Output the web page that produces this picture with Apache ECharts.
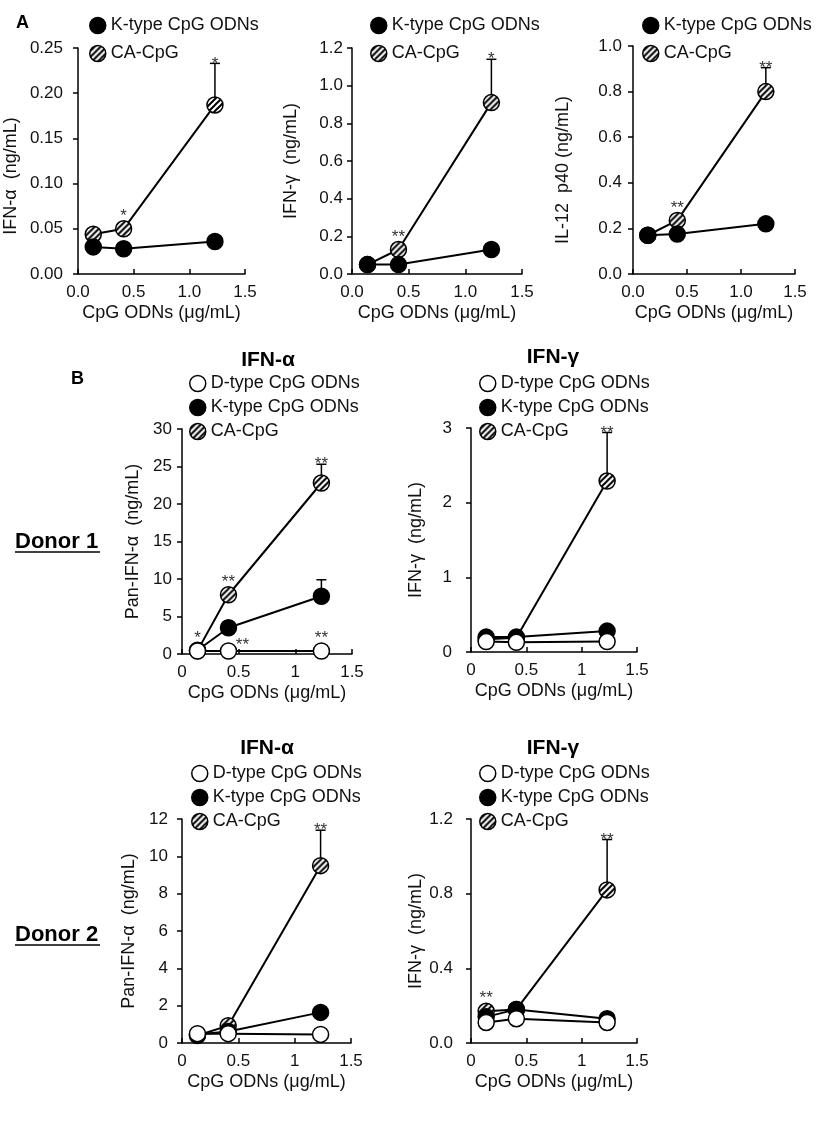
<!DOCTYPE html>
<html>
<head>
<meta charset="utf-8">
<script src="https://cdn.jsdelivr.net/npm/echarts@6/dist/echarts.min.js"></script>
<style>
  html, body { margin: 0; padding: 0; background: #fff; }
  #chart { width: 827px; height: 1143px; }
</style>
</head>
<body>
<div id="chart"></div>
<script>
// doses (3-fold dilution)
const doses = [0.137, 0.41, 1.23];
const xTicksA = ['0.0', '0.5', '1.0', '1.5'];
const xTicksB = ['0', '0.5', '1', '1.5'];

// A - IFN-alpha
const aAlphaK = [0.030, 0.028, 0.036];
const aAlphaCA = [0.044, 0.050, 0.187];
const aAlphaCATop = [null, null, 0.233];
const aAlphaCAStars = ['', '*', '*'];
const aAlphaTicks = ['0.00', '0.05', '0.10', '0.15', '0.20', '0.25'];
// A - IFN-gamma
const aGammaK = [0.05, 0.05, 0.13];
const aGammaCA = [0.05, 0.13, 0.91];
const aGammaCATop = [null, null, 1.14];
const aGammaCAStars = ['', '**', '*'];
const aGammaTicks = ['0.0', '0.2', '0.4', '0.6', '0.8', '1.0', '1.2'];
// A - IL-12 p40
const aIl12K = [0.17, 0.175, 0.22];
const aIl12CA = [0.17, 0.235, 0.80];
const aIl12CATop = [null, null, 0.905];
const aIl12CAStars = ['', '**', '**'];
const aIl12Ticks = ['0.0', '0.2', '0.4', '0.6', '0.8', '1.0'];

// B - donor 1, pan-IFN-alpha
const d1AlphaD = [0.4, 0.4, 0.4];
const d1AlphaDStars = ['*', '**', '**'];
const d1AlphaK = [0.5, 3.5, 7.7];
const d1AlphaKTop = [null, null, 9.9];
const d1AlphaCA = [0.45, 7.9, 22.8];
const d1AlphaCATop = [null, null, 25.3];
const d1AlphaCAStars = ['', '**', '**'];
const d1AlphaTicks = ['0', '5', '10', '15', '20', '25', '30'];
// B - donor 1, IFN-gamma
const d1GammaD = [0.14, 0.13, 0.14];
const d1GammaK = [0.2, 0.2, 0.28];
const d1GammaCA = [0.17, 0.19, 2.29];
const d1GammaCATop = [null, null, 2.94];
const d1GammaCAStars = ['', '', '**'];
const d1GammaTicks = ['0', '1', '2', '3'];
// B - donor 2, pan-IFN-alpha
const d2AlphaD = [0.5, 0.5, 0.46];
const d2AlphaK = [0.45, 0.62, 1.64];
const d2AlphaCA = [0.4, 0.93, 9.5];
const d2AlphaCATop = [null, null, 11.4];
const d2AlphaCAStars = ['', '', '**'];
const d2AlphaTicks = ['0', '2', '4', '6', '8', '10', '12'];
// B - donor 2, IFN-gamma
const d2GammaD = [0.11, 0.13, 0.11];
const d2GammaK = [0.14, 0.18, 0.13];
const d2GammaCA = [0.17, 0.18, 0.82];
const d2GammaCATop = [null, null, 1.09];
const d2GammaCAStars = ['**', '', '**'];
const d2GammaTicks = ['0.0', '0.4', '0.8', '1.2'];

const nameD = 'D-type CpG ODNs';
const nameK = 'K-type CpG ODNs';
const nameCA = 'CA-CpG';

const FONT = '"Liberation Sans", Arial, sans-serif';
const TXT = '#111';
const SYM = 16;

// hatched fill for CA-CpG
function hatchCanvas() {
  const c = document.createElement('canvas');
  c.width = 6; c.height = 6;
  const g = c.getContext('2d');
  g.fillStyle = '#fff';
  g.fillRect(0, 0, 6, 6);
  g.strokeStyle = '#000';
  g.lineWidth = 2;
  g.beginPath();
  g.moveTo(-1, 7); g.lineTo(7, -1);
  g.moveTo(-1, 1); g.lineTo(1, -1);
  g.moveTo(5, 7); g.lineTo(7, 5);
  g.stroke();
  return c;
}
const hatchImg = hatchCanvas();
const hatchLegend = { image: hatchImg, repeat: 'repeat' };
// series symbols are drawn at unit size and scaled by SYM/2, so shrink the pattern back
const hatchSymbol = { image: hatchImg, repeat: 'repeat', scaleX: 2 / SYM, scaleY: 2 / SYM };

const fills = {};
fills[nameD] = '#fff';
fills[nameK] = '#000';
fills[nameCA] = hatchSymbol;
const legendFills = {};
legendFills[nameD] = '#fff';
legendFills[nameK] = '#000';
legendFills[nameCA] = hatchLegend;
const zOrder = {};
zOrder[nameD] = 4;
zOrder[nameK] = 3;
zOrder[nameCA] = 2;

let option = {
  animation: false,
  backgroundColor: '#fff',
  textStyle: { fontFamily: FONT },
  grid: [], xAxis: [], yAxis: [], legend: [], series: [], graphic: []
};

function addPanel(p) {
  const i = option.grid.length;
  option.grid.push({ left: p.box[0], top: p.box[1], width: p.box[2], height: p.box[3], containLabel: false });
  const xt = p.xTicks, yt = p.yTicks;
  option.xAxis.push({
    type: 'value', gridIndex: i, min: 0, max: 1.5, interval: 0.5,
    axisLine: { show: true, onZero: false, lineStyle: { color: '#000', width: 1.5 } },
    axisTick: { show: true, inside: true, length: 5, lineStyle: { color: '#000', width: 1.5 } },
    axisLabel: { margin: 10, fontSize: 17, color: TXT, fontFamily: FONT,
      formatter: v => xt[Math.round(v / 0.5)] },
    splitLine: { show: false },
    name: 'CpG ODNs (μg/mL)', nameLocation: 'middle', nameGap: 30,
    nameTextStyle: { fontSize: 18, color: TXT, fontFamily: FONT }
  });
  option.yAxis.push({
    type: 'value', gridIndex: i, min: 0, max: p.yMax, interval: p.yStep,
    axisLine: { show: true, onZero: false, lineStyle: { color: '#000', width: 1.5 } },
    axisTick: { show: true, inside: false, length: 5, lineStyle: { color: '#000', width: 1.5 } },
    axisLabel: { margin: p.labelMargin, fontSize: 17, color: TXT, fontFamily: FONT,
      formatter: v => yt[Math.round(v / p.yStep)] },
    splitLine: { show: false },
    name: p.yName, nameLocation: 'middle', nameGap: p.nameGap,
    nameTextStyle: { fontSize: 18, color: TXT, fontFamily: FONT, padding: p.namePad || 0 }
  });
  option.legend.push({
    orient: 'vertical', left: p.legend[0], top: p.legend[1], padding: 0,
    itemGap: p.legend[2], itemWidth: 16, itemHeight: 16, icon: 'circle',
    selectedMode: false,
    data: p.series.map(s => ({ name: s.name,
      itemStyle: { color: legendFills[s.name], borderColor: '#000', borderWidth: 1.5 } })),
    textStyle: { fontSize: 18, color: TXT, fontFamily: FONT, lineHeight: 17 }
  });

  // draw CA first, D last
  const ordered = p.series.slice().sort((a, b) => zOrder[a.name] - zOrder[b.name]);
  ordered.forEach(s => {
    const z = zOrder[s.name];
    if (s.top) {
      const bars = [];
      s.top.forEach((t, k) => { if (t !== null) bars.push([doses[k], s.values[k], t]); });
      option.series.push({
        type: 'custom', xAxisIndex: i, yAxisIndex: i, z: 1, silent: true,
        data: bars,
        renderItem: (params, api) => {
          const a = api.coord([api.value(0), api.value(1)]);
          const b = api.coord([api.value(0), api.value(2)]);
          return { type: 'group', children: [
            { type: 'line', shape: { x1: a[0], y1: a[1], x2: b[0], y2: b[1] }, style: { stroke: '#000', lineWidth: 1.5 } },
            { type: 'line', shape: { x1: b[0] - 5, y1: b[1], x2: b[0] + 5, y2: b[1] }, style: { stroke: '#000', lineWidth: 1.5 } }
          ] };
        }
      });
    }
    option.series.push({
      type: 'line', name: s.name, xAxisIndex: i, yAxisIndex: i, z: z,
      data: doses.map((d, k) => [d, s.values[k]]),
      symbol: 'circle', symbolSize: SYM, showSymbol: true,
      itemStyle: { color: fills[s.name], borderColor: '#000', borderWidth: 1.5 },
      lineStyle: { color: '#000', width: 2 },
      emphasis: { disabled: true }, silent: true
    });
    if (s.stars) {
      const marks = [];
      s.stars.forEach((t, k) => {
        if (!t) return;
        const onBar = s.top && s.top[k] !== null;
        marks.push({ x: doses[k], v: onBar ? s.top[k] : s.values[k], text: t,
          mode: onBar ? 'bar' : ((s.side && s.side[k]) ? 'side' : 'dot') });
      });
      option.series.push({
        type: 'custom', xAxisIndex: i, yAxisIndex: i, z: 6, silent: true,
        data: marks.map(m => [m.x, m.v]),
        renderItem: (params, api) => {
          const m = marks[params.dataIndex];
          const c = api.coord([m.x, m.v]);
          let x = c[0], y = c[1];
          if (m.mode === 'bar') y += 9;
          else if (m.mode === 'dot') y -= 4;
          else { x += 14; y += 3; }
          return { type: 'text', x: x, y: y,
            style: { text: m.text, fontSize: 17, fontFamily: FONT, fill: '#333',
              align: 'center', verticalAlign: 'bottom', textAlign: 'center', textVerticalAlign: 'bottom' } };
        }
      });
    }
  });

  if (p.title) {
    option.graphic.push({ type: 'text', x: p.title[0], y: p.title[1], silent: true,
      style: { text: p.title[2], fontSize: 21, fontWeight: 'bold', fontFamily: FONT, fill: '#000',
        align: 'center', verticalAlign: 'middle', textAlign: 'center', textVerticalAlign: 'middle' } });
  }
}

addPanel({ box: [78, 48, 167, 226], yMax: 0.25, yStep: 0.05, yTicks: aAlphaTicks, xTicks: xTicksA,
  yName: 'IFN-α  (ng/mL)', nameGap: 58, namePad: [0, 30, 0, 0], labelMargin: 15, legend: [89, 16.5, 10],
  series: [{ name: nameK, values: aAlphaK }, { name: nameCA, values: aAlphaCA, top: aAlphaCATop, stars: aAlphaCAStars }] });
addPanel({ box: [352, 48, 170, 226], yMax: 1.2, yStep: 0.2, yTicks: aGammaTicks, xTicks: xTicksA,
  yName: 'IFN-γ  (ng/mL)', nameGap: 52, labelMargin: 9, legend: [370, 16.5, 10],
  series: [{ name: nameK, values: aGammaK }, { name: nameCA, values: aGammaCA, top: aGammaCATop, stars: aGammaCAStars }] });
addPanel({ box: [633, 46, 162, 228], yMax: 1.0, yStep: 0.2, yTicks: aIl12Ticks, xTicks: xTicksA,
  yName: 'IL-12  p40 (ng/mL)', nameGap: 61, namePad: [0, 20, 0, 0], labelMargin: 11, legend: [642, 16.5, 10],
  series: [{ name: nameK, values: aIl12K }, { name: nameCA, values: aIl12CA, top: aIl12CATop, stars: aIl12CAStars }] });

addPanel({ box: [182, 429, 170, 225], yMax: 30, yStep: 5, yTicks: d1AlphaTicks, xTicks: xTicksB,
  yName: 'Pan-IFN-α  (ng/mL)', nameGap: 40, labelMargin: 10, legend: [189, 374.5, 6], title: [268, 360, 'IFN-α'],
  series: [{ name: nameD, values: d1AlphaD, stars: d1AlphaDStars, side: [false, true, false] },
           { name: nameK, values: d1AlphaK, top: d1AlphaKTop },
           { name: nameCA, values: d1AlphaCA, top: d1AlphaCATop, stars: d1AlphaCAStars }] });
addPanel({ box: [471, 428, 166, 224], yMax: 3, yStep: 1, yTicks: d1GammaTicks, xTicks: xTicksB,
  yName: 'IFN-γ  (ng/mL)', nameGap: 46, labelMargin: 19, legend: [479, 374.5, 6], title: [553, 357, 'IFN-γ'],
  series: [{ name: nameD, values: d1GammaD }, { name: nameK, values: d1GammaK },
           { name: nameCA, values: d1GammaCA, top: d1GammaCATop, stars: d1GammaCAStars }] });
addPanel({ box: [182, 819, 169, 224], yMax: 12, yStep: 2, yTicks: d2AlphaTicks, xTicks: xTicksB,
  yName: 'Pan-IFN-α  (ng/mL)', nameGap: 44, labelMargin: 14, legend: [191, 764.5, 6], title: [267, 748, 'IFN-α'],
  series: [{ name: nameD, values: d2AlphaD }, { name: nameK, values: d2AlphaK },
           { name: nameCA, values: d2AlphaCA, top: d2AlphaCATop, stars: d2AlphaCAStars }] });
addPanel({ box: [471, 819, 166, 224], yMax: 1.2, yStep: 0.4, yTicks: d2GammaTicks, xTicks: xTicksB,
  yName: 'IFN-γ  (ng/mL)', nameGap: 46, labelMargin: 18, legend: [479, 764.5, 6], title: [553, 748, 'IFN-γ'],
  series: [{ name: nameD, values: d2GammaD }, { name: nameK, values: d2GammaK },
           { name: nameCA, values: d2GammaCA, top: d2GammaCATop, stars: d2GammaCAStars }] });

// panel letters and donor labels
function label(x, y, text, size, align) {
  option.graphic.push({ type: 'text', x: x, y: y, silent: true,
    style: { text: text, fontSize: size, fontWeight: 'bold', fontFamily: FONT, fill: '#000',
      align: align, verticalAlign: 'middle', textAlign: align, textVerticalAlign: 'middle' } });
}
label(16, 23, 'A', 18, 'left');
label(71, 379, 'B', 18, 'left');
label(15, 542, 'Donor 1', 22, 'left');
label(15, 935, 'Donor 2', 22, 'left');
option.graphic.push({ type: 'line', silent: true, shape: { x1: 15, y1: 552, x2: 100, y2: 552 }, style: { stroke: '#000', lineWidth: 1.5 } });
option.graphic.push({ type: 'line', silent: true, shape: { x1: 15, y1: 945, x2: 100, y2: 945 }, style: { stroke: '#000', lineWidth: 1.5 } });

const myChart = echarts.init(document.getElementById('chart'));
myChart.setOption(option, true);
</script>
</body>
</html>
